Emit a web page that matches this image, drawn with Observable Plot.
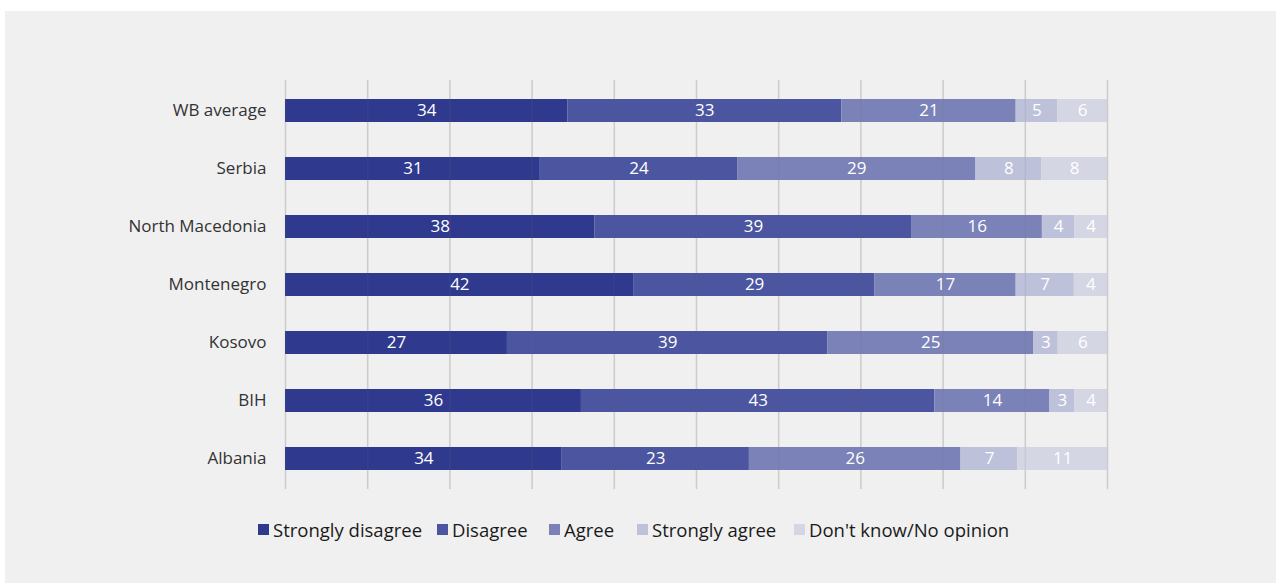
<!DOCTYPE html>
<html><head><meta charset="utf-8">
<script src="https://cdn.jsdelivr.net/npm/d3@7"></script>
<script src="https://cdn.jsdelivr.net/npm/@observablehq/plot@0.6"></script>
<style>
body{margin:0;background:#fff;font-family:"Open Sans",sans-serif;}
#panel{position:absolute;left:5px;top:11px;width:1271px;height:572px;background:#f0f0f0;}
#chart{position:absolute;left:0;top:0;}
#legend{position:absolute;left:0;top:503px;width:1271px;height:30px;font-size:18.5px;color:#1a1a1a;white-space:nowrap;}
.item{position:absolute;top:0;display:flex;align-items:center;height:30px}
.sw{width:11px;height:11px;margin-right:4px}
</style></head><body><div id="panel"><div id="chart"></div><div id="legend"></div></div>
<script>
const countries = ["WB average", "Serbia", "North Macedonia", "Montenegro", "Kosovo", "BIH", "Albania"];
const categories = ["Strongly disagree", "Disagree", "Agree", "Strongly agree", "Don't know/No opinion"];
const colors = ["#2f3a8e", "#4b55a0", "#7b82b7", "#bec1da", "#d5d6e4"];
const stronglyDisagree = [34, 31, 38, 42, 27, 36, 34];
const disagree = [33, 24, 39, 29, 39, 43, 23];
const agree = [21, 29, 16, 17, 25, 14, 26];
const stronglyAgree = [5, 8, 4, 7, 3, 3, 7];
const dontKnow = [6, 8, 4, 4, 6, 4, 11];
const gridTicks = [0, 0.1, 0.2, 0.3, 0.4, 0.5, 0.6, 0.7, 0.8, 0.9, 1];

const series = [stronglyDisagree, disagree, agree, stronglyAgree, dontKnow];
const data = [];
countries.forEach((c, i) => {
  categories.forEach((cat, j) => data.push({country: c, category: cat, value: series[j][i]}));
});

const stackOpts = {offset: "normalize", x: "value", y: "country", z: "category", order: null};

const chart = Plot.plot({
  width: 1271,
  height: 500,
  marginLeft: 280,
  marginRight: 169,
  marginTop: 69,
  marginBottom: 22,
  style: {background: "transparent", fontFamily: "'Open Sans', sans-serif", fontSize: "16px"},
  x: {domain: [0, 1], axis: null},
  y: {domain: countries, paddingInner: 0.6, paddingOuter: 0.3, axis: null},
  color: {domain: categories, range: colors},
  marks: [
    Plot.ruleX(gridTicks, {stroke: "#d9d9d9", strokeWidth: 1.5}),
    Plot.barX(data, Plot.stackX({...stackOpts, fill: "category"})),
    Plot.ruleX(gridTicks, {stroke: "#777", strokeOpacity: 0.12, strokeWidth: 1.5}),
    Plot.textX(data, Plot.stackX({...stackOpts, text: d => d.value, fill: "white", fontSize: 17})),
    Plot.axisY({tickSize: 0, tickPadding: 19, fontSize: 17, fill: "#333", label: null})
  ]
});
document.getElementById("chart").appendChild(chart);

const legendLeft = [253, 432, 544, 632, 789];
const legend = document.getElementById("legend");
categories.forEach((cat, j) => {
  const it = document.createElement("div");
  it.className = "item";
  it.style.left = legendLeft[j] + "px";
  const sw = document.createElement("span");
  sw.className = "sw";
  sw.style.background = colors[j];
  const t = document.createElement("span");
  t.textContent = cat;
  it.appendChild(sw); it.appendChild(t);
  legend.appendChild(it);
});
</script>
</body></html>
